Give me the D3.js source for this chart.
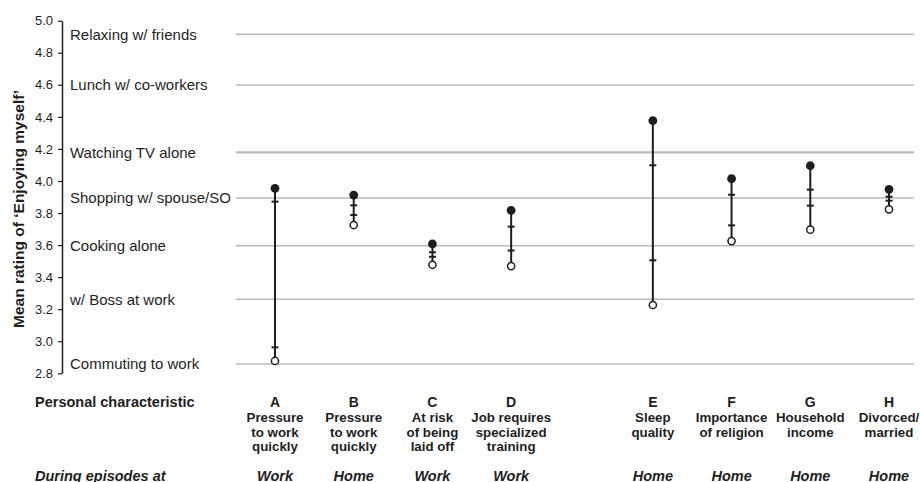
<!DOCTYPE html>
<html>
<head>
<meta charset="utf-8">
<script src="https://cdn.jsdelivr.net/npm/d3@7"></script>
<style>
  body { margin: 0; background: #fff; }
  svg { display: block; font-family: "Liberation Sans", Arial, sans-serif; }
</style>
</head>
<body>
<div id="chart"></div>
<script>
// Category letters and their slot on the x axis (gap between D and E)
const letters = ["A", "B", "C", "D", "E", "F", "G", "H"];
const slots = [0, 1, 2, 3, 4.8, 5.8, 6.8, 7.8];
const charLabels = [
    ["Pressure", "to work", "quickly"],
    ["Pressure", "to work", "quickly"],
    ["At risk", "of being", "laid off"],
    ["Job requires", "specialized", "training"],
    ["Sleep", "quality"],
    ["Importance", "of religion"],
    ["Household", "income"],
    ["Divorced/", "married"]
];
const contexts = ["Work", "Home", "Work", "Work", "Home", "Home", "Home", "Home"];

// Mean rating: filled dot (high), open dot (low), and the two inner tick marks
const highValues = [3.954, 3.912, 3.607, 3.817, 4.376, 4.014, 4.095, 3.948];
const highTicks  = [3.871, 3.848, 3.555, 3.715, 4.098, 3.914, 3.946, 3.902];
const lowTicks   = [2.962, 3.788, 3.527, 3.566, 3.505, 3.723, 3.846, 3.877];
const lowValues  = [2.877, 3.725, 3.477, 3.469, 3.226, 3.625, 3.696, 3.823];

// Reference activities drawn as horizontal lines
const activities = ["Relaxing w/ friends", "Lunch w/ co-workers", "Watching TV alone",
    "Shopping w/ spouse/SO", "Cooking alone", "w/ Boss at work", "Commuting to work"];
const activityValues = [4.915, 4.599, 4.178, 3.894, 3.596, 3.262, 2.858];

const yTicks = [2.8, 3.0, 3.2, 3.4, 3.6, 3.8, 4.0, 4.2, 4.4, 4.6, 4.8, 5.0];

const width = 920;
const height = 482;
const ink = "#1e1e1e";

const svg = d3.select("#chart")
    .append("svg")
    .attr("width", width)
    .attr("height", height);

const x = d3.scaleLinear().domain([0, 7.8]).range([275, 889]);
const y = d3.scaleLinear().domain([2.8, 5.0]).range([373.3, 20.7]);

// Gridlines for the reference activities
svg.append("g")
    .selectAll("line")
    .data(activityValues)
    .join("line")
    .attr("x1", 236)
    .attr("x2", 914)
    .attr("y1", (d) => y(d))
    .attr("y2", (d) => y(d))
    .attr("stroke", "#bababa")
    .attr("stroke-width", (d, i) => (i === 2 ? 2.3 : 1.5));

svg.append("g")
    .selectAll("text")
    .data(activities)
    .join("text")
    .attr("x", 70)
    .attr("y", (d, i) => y(activityValues[i]))
    .attr("dy", "0.35em")
    .attr("font-size", "15px")
    .attr("fill", ink)
    .text((d) => d);

// Y axis
const yAxis = svg.append("g")
    .attr("transform", "translate(62,0)")
    .call(d3.axisLeft(y).tickValues(yTicks).tickFormat(d3.format(".1f")).tickSize(4).tickSizeOuter(0).tickPadding(5));
yAxis.select(".domain").attr("stroke", ink).attr("stroke-width", 1.5);
yAxis.selectAll(".tick line").attr("stroke", ink).attr("stroke-width", 1.2);
yAxis.selectAll(".tick text")
    .attr("font-size", "13px")
    .attr("font-family", "Liberation Sans, Arial, sans-serif")
    .attr("fill", ink);

svg.append("text")
    .attr("transform", "translate(24,209) rotate(-90)")
    .attr("text-anchor", "middle")
    .attr("font-size", "15.5px")
    .attr("font-weight", "bold")
    .attr("fill", ink)
    .text("Mean rating of \u2018Enjoying myself\u2019");

// Range lines with ticks and dots
const marks = svg.append("g")
    .selectAll("g")
    .data(letters)
    .join("g")
    .attr("transform", (d, i) => `translate(${x(slots[i])},0)`);

marks.append("line")
    .attr("y1", (d, i) => y(highValues[i]))
    .attr("y2", (d, i) => y(lowValues[i]))
    .attr("stroke", ink)
    .attr("stroke-width", 2);

marks.append("line")
    .attr("x1", -3.5).attr("x2", 3.5)
    .attr("y1", (d, i) => y(highTicks[i]))
    .attr("y2", (d, i) => y(highTicks[i]))
    .attr("stroke", ink)
    .attr("stroke-width", 2);

marks.append("line")
    .attr("x1", -3.5).attr("x2", 3.5)
    .attr("y1", (d, i) => y(lowTicks[i]))
    .attr("y2", (d, i) => y(lowTicks[i]))
    .attr("stroke", ink)
    .attr("stroke-width", 2);

marks.append("circle")
    .attr("cy", (d, i) => y(highValues[i]))
    .attr("r", 4.4)
    .attr("fill", ink);

marks.append("circle")
    .attr("cy", (d, i) => y(lowValues[i]))
    .attr("r", 3.6)
    .attr("fill", "#fff")
    .attr("stroke", ink)
    .attr("stroke-width", 1.5);

// Bottom labels
svg.append("text")
    .attr("x", 35)
    .attr("y", 406.5)
    .attr("font-size", "14.5px")
    .attr("font-weight", "bold")
    .attr("fill", ink)
    .text("Personal characteristic");

svg.append("text")
    .attr("x", 35)
    .attr("y", 480.5)
    .attr("font-size", "14.5px")
    .attr("font-weight", "bold")
    .attr("font-style", "italic")
    .attr("fill", ink)
    .text("During episodes at");

const labels = svg.append("g")
    .selectAll("g")
    .data(letters)
    .join("g")
    .attr("transform", (d, i) => `translate(${x(slots[i])},0)`)
    .attr("text-anchor", "middle")
    .attr("font-weight", "bold")
    .attr("fill", ink);

labels.append("text")
    .attr("y", 406.5)
    .attr("font-size", "14px")
    .text((d) => d);

labels.each(function (d, i) {
    d3.select(this)
        .selectAll("text.line")
        .data(charLabels[i])
        .join("text")
        .attr("class", "line")
        .attr("y", (t, j) => 422 + j * 14.7)
        .attr("font-size", "13.3px")
        .text((t) => t);
});

labels.append("text")
    .attr("y", 480.5)
    .attr("font-size", "14.5px")
    .attr("font-style", "italic")
    .text((d, i) => contexts[i]);
</script>
</body>
</html>
